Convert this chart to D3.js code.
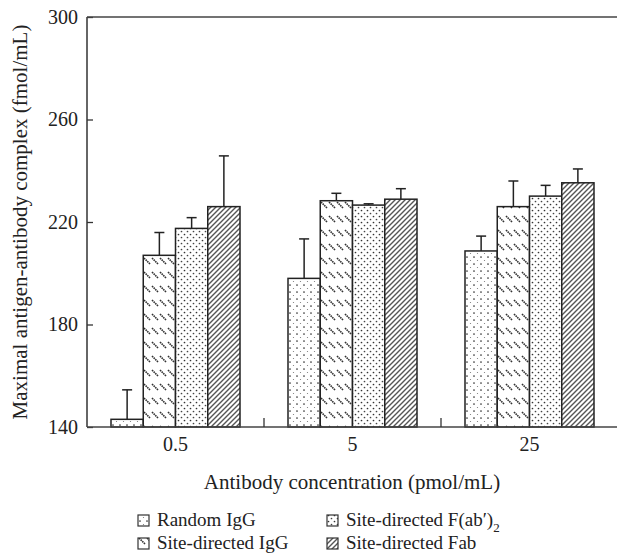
<!DOCTYPE html>
<html>
<head>
<meta charset="utf-8">
<script src="https://cdn.jsdelivr.net/npm/d3@7"></script>
<style>
  body { margin: 0; background: #fff; }
  text { font-family: "Liberation Serif", "DejaVu Serif", serif; fill: #222; }
</style>
</head>
<body>
<div id="chart"></div>
<script>
// data
var concentrations = ["0.5", "5", "25"];
var seriesNames = ["Random IgG", "Site-directed IgG", "Site-directed F(ab\u2032)", "Site-directed Fab"];
var randomIgG = [143, 198, 208.7];
var siteIgG = [207, 228.3, 226];
var siteFab2 = [217.5, 226.6, 230.1];
var siteFab = [226, 228.9, 235.3];
var errRandomIgG = [11.5, 15.4, 5.8];
var errSiteIgG = [8.9, 2.9, 10];
var errSiteFab2 = [4.2, 0.5, 4.2];
var errSiteFab = [19.8, 4.1, 5.4];
var yTicks = [140, 180, 220, 260, 300];

var values = [randomIgG, siteIgG, siteFab2, siteFab];
var errors = [errRandomIgG, errSiteIgG, errSiteFab2, errSiteFab];

var width = 617, height = 560;
var margin = { top: 17, right: -2, bottom: 133, left: 87 };
var chartWidth = width - margin.left - margin.right;
var chartHeight = height - margin.top - margin.bottom;

var svg = d3.select("#chart").append("svg")
    .attr("width", width)
    .attr("height", height);

// fill patterns
var defs = svg.append("defs");
var pats = ["pRandom", "pIgG", "pFab2", "pFab"];

var p0 = defs.append("pattern").attr("id", pats[0]).attr("patternUnits", "userSpaceOnUse")
    .attr("width", 7).attr("height", 7);
p0.append("rect").attr("width", 7).attr("height", 7).attr("fill", "#fff");
p0.append("circle").attr("cx", 2).attr("cy", 2).attr("r", 0.85).attr("fill", "#333");
p0.append("circle").attr("cx", 5.5).attr("cy", 5.5).attr("r", 0.6).attr("fill", "#777");

var p1 = defs.append("pattern").attr("id", pats[1]).attr("patternUnits", "userSpaceOnUse")
    .attr("width", 8).attr("height", 14);
p1.append("rect").attr("width", 8).attr("height", 14).attr("fill", "#fff");
p1.append("line").attr("x1", 1).attr("y1", 3).attr("x2", 7).attr("y2", 9)
    .attr("stroke", "#333").attr("stroke-width", 1.6).attr("stroke-dasharray", "1.6,0.7");

var p2 = defs.append("pattern").attr("id", pats[2]).attr("patternUnits", "userSpaceOnUse")
    .attr("width", 6).attr("height", 6);
p2.append("rect").attr("width", 6).attr("height", 6).attr("fill", "#fff");
p2.append("circle").attr("cx", 1.5).attr("cy", 1.5).attr("r", 0.85).attr("fill", "#333");
p2.append("circle").attr("cx", 4.5).attr("cy", 4.5).attr("r", 0.85).attr("fill", "#444");

var p3 = defs.append("pattern").attr("id", pats[3]).attr("patternUnits", "userSpaceOnUse")
    .attr("width", 5).attr("height", 5);
p3.append("rect").attr("width", 5).attr("height", 5).attr("fill", "#fff");
p3.append("path").attr("d", "M-1,6 L6,-1 M-1,1 L1,-1 M4,6 L6,4")
    .attr("stroke", "#555").attr("stroke-width", 1.4);

var chartGroup = svg.append("g")
    .attr("transform", `translate(${margin.left}, ${margin.top})`);

// scales
var xScale = d3.scaleBand()
    .domain(concentrations)
    .range([0, 177 * 3]);

var xInner = d3.scaleBand()
    .domain(d3.range(seriesNames.length))
    .range([0, 129])
    .padding(0);

var yScale = d3.scaleLinear()
    .domain([140, 300])
    .range([chartHeight, 0]);

// bars
var groups = chartGroup.selectAll(".grp")
    .data(concentrations)
    .enter()
    .append("g")
    .attr("transform", d => `translate(${xScale(d) + (xScale.bandwidth() - 129) / 2}, 0)`);

groups.each(function(c, ci) {
    var g = d3.select(this);
    var rows = seriesNames.map((s, si) => ({ si: si, v: values[si][ci], e: errors[si][ci] }));

    // error bars (upper only)
    g.selectAll(".err")
        .data(rows)
        .enter()
        .append("line")
        .attr("x1", d => xInner(d.si) + xInner.bandwidth() / 2)
        .attr("x2", d => xInner(d.si) + xInner.bandwidth() / 2)
        .attr("y1", d => yScale(d.v))
        .attr("y2", d => yScale(d.v + d.e))
        .attr("stroke", "#222").attr("stroke-width", 1.5);
    g.selectAll(".cap")
        .data(rows)
        .enter()
        .append("line")
        .attr("x1", d => xInner(d.si) + xInner.bandwidth() / 2 - 5)
        .attr("x2", d => xInner(d.si) + xInner.bandwidth() / 2 + 5)
        .attr("y1", d => yScale(d.v + d.e))
        .attr("y2", d => yScale(d.v + d.e))
        .attr("stroke", "#222").attr("stroke-width", 1.5);

    g.selectAll("rect")
        .data(rows)
        .enter()
        .append("rect")
        .attr("x", d => xInner(d.si))
        .attr("y", d => yScale(d.v))
        .attr("width", xInner.bandwidth())
        .attr("height", d => chartHeight - yScale(d.v))
        .attr("fill", d => `url(#${pats[d.si]})`)
        .attr("stroke", "#222")
        .attr("stroke-width", 1.5);
});

// axes
var left_axis = d3.axisLeft(yScale).tickValues(yTicks).tickSize(-6).tickPadding(9);
var yAxisG = chartGroup.append("g").call(left_axis);
yAxisG.select(".domain").remove();
yAxisG.selectAll("line").attr("stroke", "#333").attr("stroke-width", 1.3);
yAxisG.selectAll("text").attr("font-size", 20).attr("fill", "#222")
    .style("font-family", "Liberation Serif, serif");

chartGroup.append("line")
    .attr("x1", 0).attr("x2", 0).attr("y1", 0).attr("y2", chartHeight)
    .attr("stroke", "#333").attr("stroke-width", 1.5);
chartGroup.append("line")
    .attr("x1", 0).attr("x2", chartWidth).attr("y1", 0).attr("y2", 0)
    .attr("stroke", "#444").attr("stroke-width", 1.5);
chartGroup.append("line")
    .attr("x1", 0).attr("x2", chartWidth).attr("y1", chartHeight).attr("y2", chartHeight)
    .attr("stroke", "#444").attr("stroke-width", 1.5);

// category labels and dividing ticks
chartGroup.selectAll(".xlab")
    .data(concentrations)
    .enter()
    .append("text")
    .attr("x", d => xScale(d) + xScale.bandwidth() / 2)
    .attr("y", chartHeight + 24)
    .attr("text-anchor", "middle")
    .attr("font-size", 20)
    .text(d => d);

chartGroup.selectAll(".xtick")
    .data(concentrations.slice(1))
    .enter()
    .append("line")
    .attr("x1", d => xScale(d))
    .attr("x2", d => xScale(d))
    .attr("y1", chartHeight)
    .attr("y2", chartHeight - 9)
    .attr("stroke", "#333").attr("stroke-width", 1.3);

// axis titles
chartGroup.append("text")
    .attr("transform", "rotate(-90)")
    .attr("x", -chartHeight / 2)
    .attr("y", -margin.left + 27)
    .attr("text-anchor", "middle")
    .attr("font-size", 21)
    .text("Maximal antigen-antibody complex (fmol/mL)");

chartGroup.append("text")
    .attr("x", 265)
    .attr("y", chartHeight + 62)
    .attr("text-anchor", "middle")
    .attr("font-size", 21)
    .text("Antibody concentration (pmol/mL)");

// legend
var legPos = [[138, 526], [138, 549], [327, 526], [327, 549]];
var legend = svg.append("g");
seriesNames.forEach(function(name, i) {
    var lg = legend.append("g").attr("transform", `translate(${legPos[i][0]}, ${legPos[i][1]})`);
    lg.append("rect").attr("x", 0).attr("y", -11).attr("width", 11).attr("height", 11)
        .attr("fill", `url(#${pats[i]})`).attr("stroke", "#333").attr("stroke-width", 1.2);
    var t = lg.append("text").attr("x", 19).attr("y", 0).attr("font-size", 19).text(name);
    if (i === 2) {
        t.append("tspan").attr("dy", 6).attr("font-size", 13).text("2");
    }
});
</script>
</body>
</html>
